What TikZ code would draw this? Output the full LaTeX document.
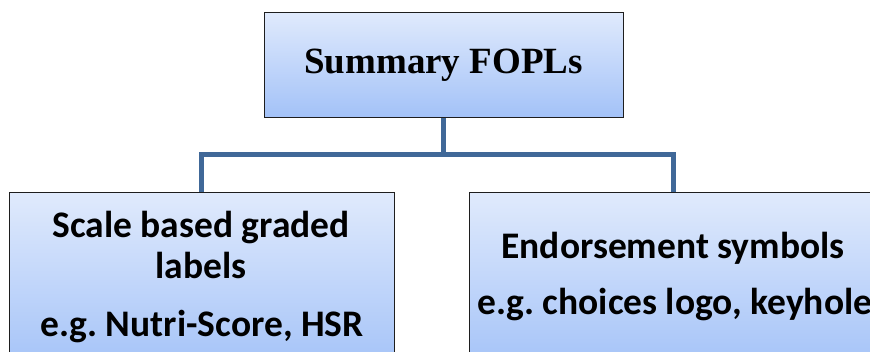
\documentclass[tikz,border=0pt]{standalone}
\usepackage{fontspec}
\setmainfont{Liberation Serif}
\newfontfamily\calib{Carlito}
\definecolor{linkblue}{RGB}{64,104,152}
\definecolor{boxtop}{RGB}{224,234,252}
\definecolor{boxbot}{RGB}{163,194,248}
\definecolor{boxedge}{RGB}{30,30,30}
\tikzset{
  boxshape/.style={draw=boxedge, line width=1pt, top color=boxtop, bottom color=boxbot, inner sep=0pt},
  link/.style={draw=linkblue, line width=5pt},
  toptext/.style={font=\bfseries\fontsize{37}{42}\selectfont, inner sep=0pt, anchor=base},
  boxtext/.style={font=\calib\bfseries\fontsize{37.5}{42}\selectfont, inner sep=0pt, anchor=base},
}
\begin{document}
\begin{tikzpicture}[x=1pt,y=-1pt]
\useasboundingbox (0,0) rectangle (870,351);
\node[boxshape, minimum width=359pt, minimum height=105pt] (top) at (443.5,64.5) {};
\node[boxshape, minimum width=385pt, minimum height=180pt] (L) at (201.5,282) {};
\node[boxshape, minimum width=408pt, minimum height=180pt] (R) at (673,282) {};
\coordinate (j) at (443.5,154);
\draw[link] (top.south) -- (j);
\draw[link] (j) -| (L.north);
\draw[link] (j) -| (R.north);
\node[toptext] (t0) at (443.5,73) {Summary FOPLs};
\node[boxtext] (l1) at (201,237) {Scale based graded};
\node[boxtext] (l2) at (201,278) {labels};
\node[boxtext] (l3) at (202,336) {e.g.\ Nutri-Score, HSR};
\node[boxtext] (r1) at (673,258) {Endorsement symbols};
\node[boxtext, anchor=base west] (r2) at (477,314) {e.g.\ choices logo, keyhole};
\end{tikzpicture}
\end{document}
